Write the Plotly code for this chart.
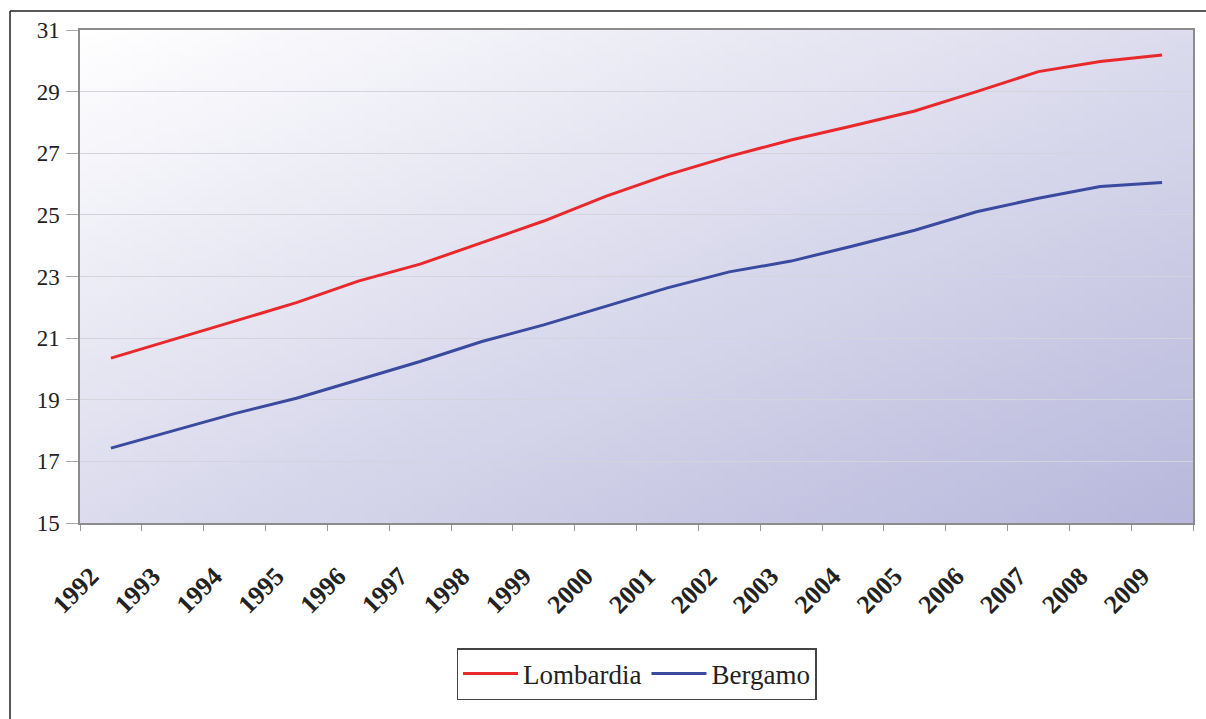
import zlib, struct, base64
import plotly.graph_objects as go

years = [str(y) for y in range(1992, 2010)]
lombardia = [20.35, 20.95, 21.55, 22.15, 22.85, 23.4, 24.1, 24.8, 25.6, 26.3,
             26.9, 27.43, 27.89, 28.37, 29.0, 29.65, 29.98, 30.19]
bergamo = [17.43, 18.0, 18.55, 19.05, 19.65, 20.24, 20.89, 21.43, 22.03, 22.63,
           23.15, 23.5, 23.99, 24.5, 25.1, 25.54, 25.92, 26.05]
y_ticks = [15, 17, 19, 21, 23, 25, 27, 29, 31]


def gradient_png(w=96, h=64, c0=(255, 255, 255), c1=(184, 184, 220)):
    rows = b""
    for j in range(h):
        row = b"\x00"
        for i in range(w):
            t = (i / (w - 1) + j / (h - 1)) / 2.0
            px = bytes(int(round(c0[k] + (c1[k] - c0[k]) * t)) for k in range(3))
            row += px
        rows += row

    def chunk(tag, data):
        return (struct.pack(">I", len(data)) + tag + data +
                struct.pack(">I", zlib.crc32(tag + data) & 0xffffffff))

    png = b"\x89PNG\r\n\x1a\n"
    png += chunk(b"IHDR", struct.pack(">IIBBBBB", w, h, 8, 2, 0, 0, 0))
    png += chunk(b"IDAT", zlib.compress(rows, 9))
    png += chunk(b"IEND", b"")
    return "data:image/png;base64," + base64.b64encode(png).decode()


W, H = 1206, 719
L, R, T, B = 80, 13, 30, 196
pw, ph = W - L - R, H - T - B

serif = "Liberation Serif, Times New Roman, serif"

fig = go.Figure()
fig.add_trace(go.Scatter(x=years, y=lombardia, mode="lines", name="Lombardia",
                         line=dict(color="#E8282B", width=3)))
fig.add_trace(go.Scatter(x=years, y=bergamo, mode="lines", name="Bergamo",
                         line=dict(color="#3A4A9E", width=3)))

fig.add_layout_image(dict(source=gradient_png(), xref="paper", yref="paper",
                          x=0, y=1, sizex=1, sizey=1, xanchor="left", yanchor="top",
                          sizing="stretch", layer="below"))

# outer frame (only its top and left edges fall inside the picture)
fig.add_shape(type="line", xref="paper", yref="paper",
              x0=(10 - L) / pw, x1=(1300 - L) / pw,
              y0=1 + (T - 11) / ph, y1=1 + (T - 11) / ph,
              line=dict(color="#222222", width=1.5))
fig.add_shape(type="line", xref="paper", yref="paper",
              x0=(10 - L) / pw, x1=(10 - L) / pw,
              y0=1 + (T - 11) / ph, y1=(T + ph - 800) / ph,
              line=dict(color="#222222", width=1.5))

fig.update_layout(
    width=W, height=H,
    margin=dict(l=L, r=R, t=T, b=B, pad=0),
    paper_bgcolor="white",
    plot_bgcolor="rgba(0,0,0,0)",
    font=dict(family=serif, color="#222222"),
    showlegend=True,
    legend=dict(orientation="h", x=0.5, xanchor="center",
                y=(T + ph - 648) / ph, yanchor="top",
                bordercolor="#444444", borderwidth=1.5,
                bgcolor="white", font=dict(size=27, family=serif),
                itemwidth=55, tracegroupgap=0),
    xaxis=dict(type="category", tickangle=-45, tickson="boundaries",
               ticks="outside", ticklen=6, tickcolor="#999999",
               tickfont=dict(size=26, family=serif, weight="bold"),
               showgrid=False, showline=True, linecolor="#8c8c8c", linewidth=1.5,
               mirror=True, ticklabelstandoff=26, ticklabelshift=-20,
               range=[-0.5, 17.5]),
    yaxis=dict(range=[15, 31], tickvals=y_ticks, ticks="outside", ticklen=12,
               tickcolor="#aaaaaa", tickfont=dict(size=23, family=serif),
               showgrid=True, gridcolor="#d4d4dc", gridwidth=1,
               showline=True, linecolor="#8c8c8c", linewidth=1.5, mirror=True,
               zeroline=False, ticklabelstandoff=2),
)

fig.write_html("out.html")
